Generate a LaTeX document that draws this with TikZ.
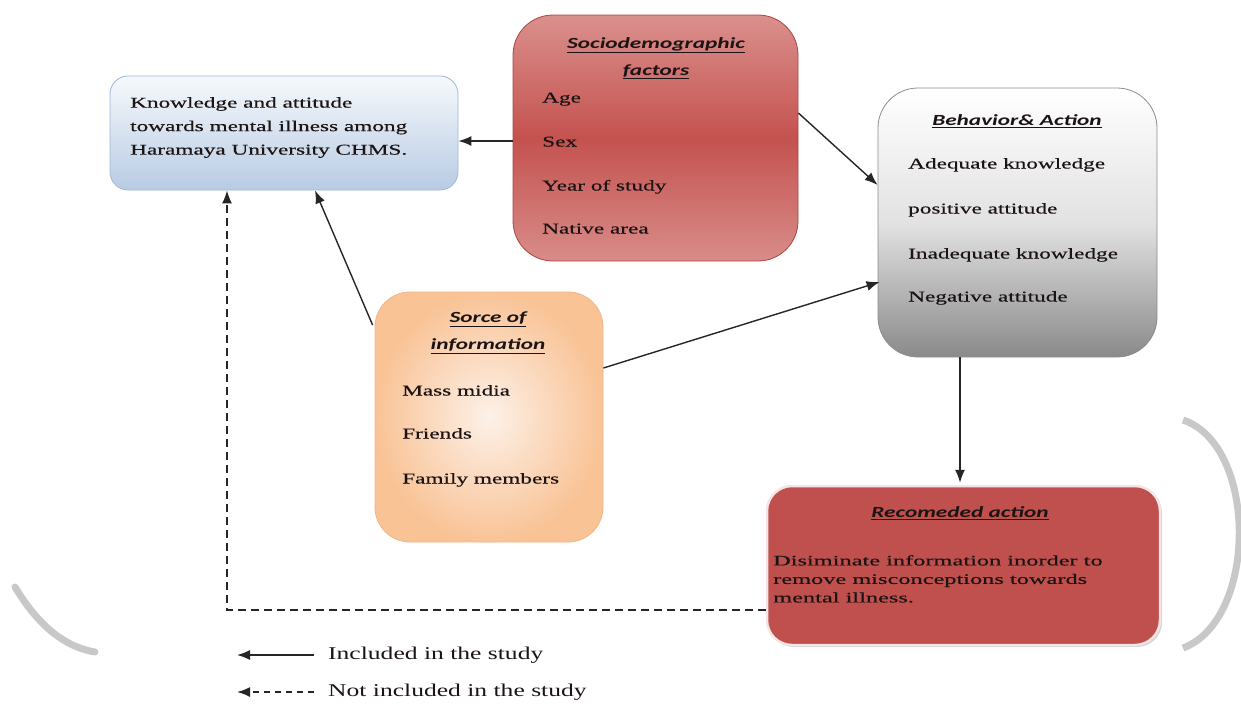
\documentclass[tikz,border=0pt]{standalone}
\usepackage{fontspec}
\setmainfont[FakeStretch=1.5]{Liberation Serif}
\newfontfamily\bodyfont[FakeStretch=1.55,FakeBold=0.4]{Liberation Serif}
\newfontfamily\recfont[FakeStretch=1.68,FakeBold=0.4]{Liberation Serif}
\newfontfamily\titlefont[FakeStretch=1.5]{Carlito}
\newfontfamily\legendfont[FakeStretch=1.42]{Liberation Serif}
\usetikzlibrary{arrows.meta,shadows}
\definecolor{kbTop}{HTML}{F6F9FC}
\definecolor{kbBot}{HTML}{B8CBE4}
\definecolor{kbLine}{HTML}{9FB6D3}
\definecolor{soTop}{HTML}{DA908D}
\definecolor{soMid}{HTML}{C4524F}
\definecolor{soBot}{HTML}{D88C89}
\definecolor{soLine}{HTML}{A94643}
\definecolor{beMid}{HTML}{E2E2E2}
\definecolor{beBot}{HTML}{8A8A8A}
\definecolor{beLine}{HTML}{8C8C8C}
\definecolor{srIn}{HTML}{FDF1E8}
\definecolor{srOut}{HTML}{F9C396}
\definecolor{srLine}{HTML}{F2B48A}
\definecolor{recFill}{HTML}{C0504D}
\definecolor{recLine}{HTML}{F4E4E4}
\definecolor{arcGray}{HTML}{C8C8C8}
\definecolor{txt}{HTML}{1C1414}
\begin{document}
\begin{tikzpicture}[x=1pt,y=-1pt,
  box/.style={draw, line width=0.8pt, inner sep=0pt},
  itemtext/.style={anchor=west, inner sep=0pt, text height=11pt, text depth=4pt, font=\bodyfont\fontsize{15}{18}\selectfont, text=txt},
  titletext/.style={anchor=center, inner sep=0pt, align=center, font=\titlefont\bfseries\itshape\fontsize{15.5}{27}\selectfont, text=txt},
  arr/.style={-{Latex[length=13pt,width=10pt]}, line width=1.4pt, black!85},
  darr/.style={arr, dash pattern=on 8pt off 5pt, line width=1.6pt}
]
\useasboundingbox (0,0) rectangle (1241,705);

% decorative arcs
\draw[arcGray, line width=7pt, line cap=round] (15,587) .. controls (35,620) and (60,646) .. (95,652);
\draw[arcGray, line width=7pt] (1183,420) .. controls (1258,445) and (1258,620) .. (1183,648);

% boxes
\node[box, draw=kbLine, rounded corners=18pt, top color=kbTop, bottom color=kbBot,
  minimum width=348pt, minimum height=114pt] (know) at (284,133) {};
\node[box, draw=soLine, rounded corners=40pt, top color=soTop, bottom color=soBot, middle color=soMid,
  minimum width=285pt, minimum height=246pt] (socio) at (655.5,138) {};
\node[box, draw=beLine, rounded corners=40pt, top color=white, bottom color=beBot, middle color=beMid,
  minimum width=279pt, minimum height=269pt] (beh) at (1017.5,222.5) {};
\node[box, draw=srLine, rounded corners=35pt, inner color=srIn, outer color=srOut,
  minimum width=228pt, minimum height=250pt] (src) at (489,417) {};
\node[box, draw=recLine, line width=2.5pt, rounded corners=25pt, fill=recFill,
  drop shadow={opacity=0.35, shadow xshift=2pt, shadow yshift=-2pt},
  minimum width=393pt, minimum height=159pt] (rec) at (963.5,565.5) {};

% knowledge text
\node[anchor=north west, inner sep=0pt, align=left, font=\bodyfont\fontsize{15}{23.5}\selectfont, text=txt] (kt) at (130,97)
  {Knowledge and attitude\\towards mental illness among\\Haramaya University CHMS.};

% socio text
\node[titletext] (st) at (656,58) {\underline{Sociodemographic}\\\underline{factors}};
\node[itemtext] (s1) at (542,99) {Age};
\node[itemtext] (s2) at (542,143) {Sex};
\node[itemtext] (s3) at (542,187) {Year of study};
\node[itemtext] (s4) at (542,230) {Native area};

% behaviour text
\node[titletext] (bt) at (1017,121) {\underline{Behavior\& Action}};
\node[itemtext] (b1) at (908,165) {Adequate knowledge};
\node[itemtext] (b2) at (908,210) {positive attitude};
\node[itemtext] (b3) at (908,255) {Inadequate knowledge};
\node[itemtext] (b4) at (908,298) {Negative attitude};

% source text
\node[titletext] (srt) at (488,333) {\underline{Sorce of}\\\underline{information}};
\node[itemtext] (r1) at (402,392) {Mass midia};
\node[itemtext] (r2) at (402,435) {Friends};
\node[itemtext] (r3) at (402,480) {Family members};

% recommended text
\node[titletext] (rt) at (960,513) {\underline{Recomeded action}};
\node[anchor=north west, inner sep=0pt, align=left, font=\recfont\fontsize{14.5}{18.5}\selectfont, text=txt] (rtx) at (773,555)
  {Disiminate information inorder to\\remove misconceptions towards\\mental illness.};

% connectors
\draw[arr] ([yshift=-3pt]socio.west) -- ([yshift=-8pt]know.east);
\draw[arr] ([yshift=25pt]socio.east) -- ([yshift=37.5pt]beh.west);
\draw[arr] ([xshift=-2pt,yshift=92pt]src.west) -- ([xshift=31pt]know.south);
\draw[arr] ([yshift=49pt]src.east) -- ([yshift=-59.5pt,xshift=2pt]beh.west);
\draw[arr] ([xshift=-57.5pt]beh.south) -- ([xshift=-3.5pt,yshift=2pt]rec.north);
\draw[darr] ([yshift=-44.5pt]rec.west) -| ([xshift=-57pt]know.south);

% legend
\node[anchor=west, inner sep=0pt, font=\legendfont\fontsize{18}{20}\selectfont, text=txt] (l1) at (328,655) {Included in the study};
\node[anchor=west, inner sep=0pt, font=\legendfont\fontsize{18}{20}\selectfont, text=txt] (l2) at (328,692) {Not included in the study};
\coordinate (l1e) at (237,655);
\coordinate (l2e) at (237,692);
\draw[arr] ([xshift=-14pt]l1.west) -- (l1e);
\draw[darr, dash pattern=on 6pt off 5pt] ([xshift=-14pt]l2.west) -- (l2e);
\end{tikzpicture}
\end{document}
